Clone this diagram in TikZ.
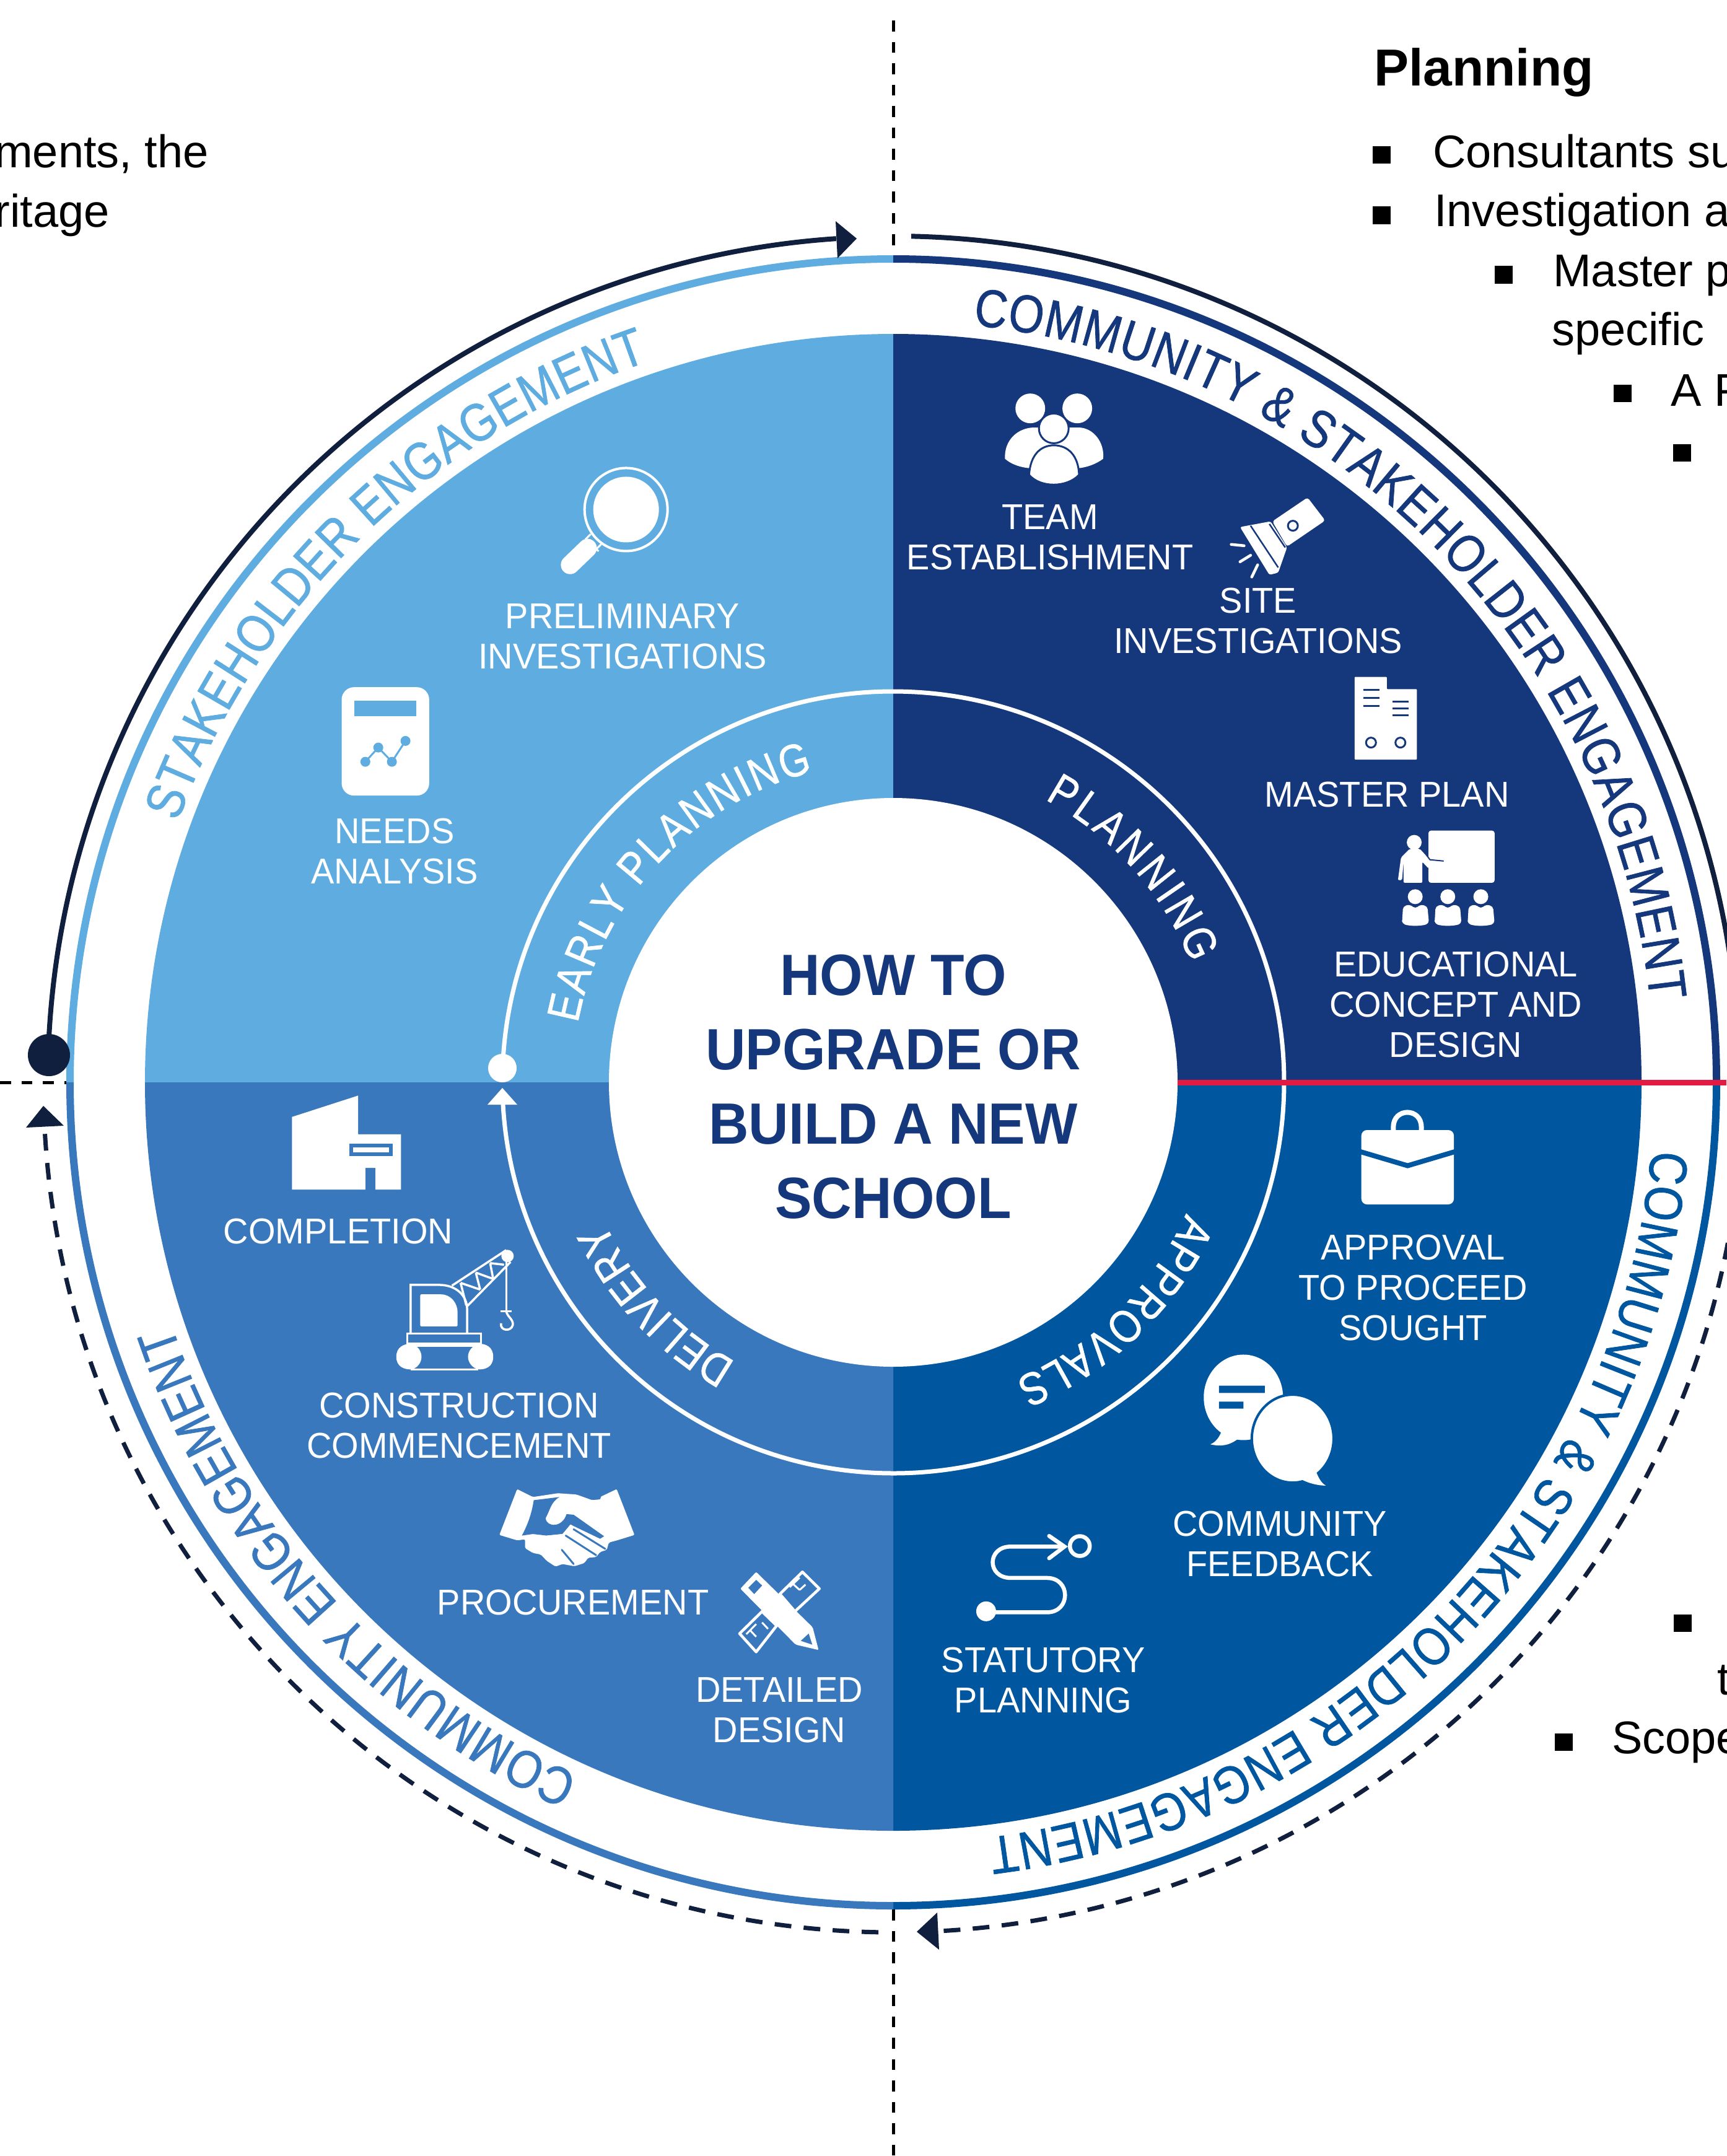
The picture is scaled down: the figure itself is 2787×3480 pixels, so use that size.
\documentclass[tikz,border=0pt]{standalone}
\usepackage{fontspec}
\setmainfont{Liberation Sans}
\newfontfamily\ringfont[FakeStretch=0.85,FakeBold=0.9]{Liberation Sans}
\newfontfamily\lblfont[FakeStretch=0.965]{Liberation Sans}
\newfontfamily\titlefont[FakeStretch=0.95]{Liberation Sans}
\usetikzlibrary{decorations.text}
\definecolor{qtl}{HTML}{5FADE0}
\definecolor{qtr}{HTML}{15387D}
\definecolor{qbr}{HTML}{0057A0}
\definecolor{qbl}{HTML}{3A78BE}
\definecolor{navy}{HTML}{101F3D}
\definecolor{redl}{HTML}{E31B43}
\tikzset{
  lbl/.style={text=white,align=center,inner sep=0pt,font=\lblfont\fontsize{58}{65}\selectfont},
  title/.style={text=qtr,align=center,inner sep=0pt,font=\titlefont\fontsize{94}{120}\selectfont\bfseries},
  side/.style={text=black,inner sep=0pt,font=\fontsize{74}{74}\selectfont},
  sidehead/.style={text=black,inner sep=0pt,font=\fontsize{84}{84}\selectfont\bfseries},
  zA/.style={shift={(1300,300)},x=0.9484pt,y=-0.7015pt},
  zB/.style={shift={(1500,1300)},x=0.8208pt,y=-0.7015pt},
  zC/.style={shift={(1400,2200)},x=0.8846pt,y=-0.8163pt},
  zD/.style={shift={(0,1600)},x=0.7015pt,y=-0.6378pt},
  zE/.style={shift={(500,2300)},x=0.6378pt,y=-0.5102pt},
  zF/.style={shift={(400,700)},x=0.5102pt,y=-0.5102pt},
  outerarc/.style={line width=12pt},
  navyline/.style={navy,line width=8pt},
  dashline/.style={navy,line width=7pt,dash pattern=on 27pt off 20pt},
  guide/.style={black,line width=5pt,dash pattern=on 17.5pt off 17pt}
}
\newcommand{\quadfill}[3]{\fill[#3] (C) -- ([shift={(#1:1208pt)}]C) arc[start angle=#1,end angle=#2,radius=1208pt] -- cycle;}
\newcommand{\outerseg}[3]{\draw[outerarc,#3] ([shift={(#1:1329pt)}]C) arc[start angle=#1,end angle=#2,radius=1329pt];}
% radius, start angle, end angle, size, colour, text; the path runs 2 degrees past the text end
\newcommand{\ringtext}[6]{%
  \pgfmathsetlengthmacro{\ringind}{2*0.0174533*#1}%
  \pgfmathsetmacro{\ringend}{#3-2}%
  \path[decorate,decoration={text along path,text align={fit to path,right indent=\ringind},text={|\ringfont\fontsize{#4}{#4}\selectfont\color{#5}|#6}}] ([shift={(#2:#1pt)}]C) arc[start angle=#2,end angle=\ringend,radius=#1pt];}
\begin{document}
\begin{tikzpicture}[x=1pt,y=-1pt]
\useasboundingbox (0,0) rectangle (2787,3480);
\fill[white] (0,0) rectangle (2787,3480);
\coordinate (C) at (1442,1747);
% guides
\draw[guide] (1442,33) -- (1442,413);
\draw[guide] (1442,3082) -- (1442,3480);
\draw[guide] (0,1747) -- (107,1747);
% quadrants
\quadfill{90}{180}{qtl}
\quadfill{0}{90}{qtr}
\quadfill{-90}{0}{qbr}
\quadfill{180}{270}{qbl}
\fill[white] (C) circle[radius=459pt];
% outer coloured ring
\outerseg{90}{180}{qtl}
\outerseg{0}{90}{qtr}
\outerseg{-90}{0}{qbr}
\outerseg{180}{270}{qbl}
% navy process arcs
\draw[navyline] ([shift={(178.15:1365pt)}]C) arc[start angle=178.15,end angle=93.87,radius=1365pt];
\fill[navy] (1349,357) -- (1383,385) -- (1352,417) -- cycle;
\draw[navyline] ([shift={(88.78:1366pt)}]C) arc[start angle=88.78,end angle=5,radius=1366pt];
\draw[dashline] ([shift={(-5:1372pt)}]C) arc[start angle=-5,end angle=-87.1,radius=1372pt];
\fill[navy] (1480,3118) -- (1513,3087) -- (1516,3147) -- cycle;
\draw[dashline] ([shift={(269:1372pt)}]C) arc[start angle=269,end angle=183.05,radius=1372pt];
\fill[navy] (70,1785) -- (103,1817) -- (42,1820) -- cycle;
\node[circle,fill=navy,minimum size=68pt,inner sep=0pt] (startdot) at (79,1703) {};
% white inner ring
\draw[white,line width=7pt] ([shift={(177.9:631pt)}]C) arc[start angle=177.9,end angle=-176.8,radius=631pt];
\fill[white] (811,1756) -- (835,1783) -- (787,1783) -- cycle;
\node[circle,fill=white,minimum size=46pt,inner sep=0pt] (ringdot) at (811,1724) {};
% red line
\draw[redl,line width=9pt] (1901,1747) -- (2787,1747);
% ring labels
\ringtext{1229}{84}{6.2}{86}{qtr}{COMMUNITY {\&} STAKEHOLDER ENGAGEMENT}
\ringtext{1229}{160}{108.8}{86}{qtl}{STAKEHOLDER ENGAGEMENT}
\ringtext{1229}{-5.1}{-82.8}{86}{qbr}{COMMUNITY {\&} STAKEHOLDER ENGAGEMENT}
\ringtext{1229}{245.6}{198.6}{86}{qbl}{COMMUNITY ENGAGEMENT}
\ringtext{518}{169.4}{104.5}{74}{white}{EARLY PLANNING}
\ringtext{518}{61.8}{21.8}{74}{white}{PLANNING}
\ringtext{518}{-24.1}{-67.6}{74}{white}{APPROVALS}
\ringtext{518}{240.6}{205.8}{74}{white}{DELIVERY}
% centre
\node[title] (centre) at (1442,1754) {HOW TO\\UPGRADE OR\\BUILD A NEW\\SCHOOL};
% white labels
\node[lbl] (team) at (1695,867) {TEAM\\ESTABLISHMENT};
\node[lbl] (site) at (2031,1002) {SITE\\INVESTIGATIONS};
\node[lbl] (master) at (2239,1283) {MASTER PLAN};
\node[lbl] (edu) at (2350,1622) {EDUCATIONAL\\CONCEPT AND\\DESIGN};
\node[lbl] (appr) at (2281,2079) {APPROVAL\\TO PROCEED\\SOUGHT};
\node[lbl] (feed) at (2066,2492) {COMMUNITY\\FEEDBACK};
\node[lbl] (stat) at (1684,2712) {STATUTORY\\PLANNING};
\node[lbl] (detail) at (1258,2760) {DETAILED\\DESIGN};
\node[lbl] (proc) at (925,2587) {PROCUREMENT};
\node[lbl] (constr) at (741,2301) {CONSTRUCTION\\COMMENCEMENT};
\node[lbl] (compl) at (546,1988) {COMPLETION};
\node[lbl] (needs) at (637,1374) {NEEDS\\ANALYSIS};
\node[lbl] (prelim) at (1005,1027) {PRELIMINARY\\INVESTIGATIONS};
% side text
\node[sidehead,anchor=base west] (h1) at (2218,138) {Planning};
\node[side,anchor=base west] (s1) at (2313,270) {Consultants su};
\node[side,anchor=base west] (s2) at (2315,365) {Investigation a};
\node[side,anchor=base west] (s3) at (2507,462) {Master p};
\node[side,anchor=base west] (s4) at (2505,557) {specific};
\node[side,anchor=base west] (s5) at (2697,655) {A P};
\node[side,anchor=base west] (s6) at (2772,2735) {t};
\node[side,anchor=base west] (s7) at (2602,2830) {Scope};
\node[side,anchor=base east] (l1) at (337,270) {ments, the};
\node[side,anchor=base east] (l2) at (177,366) {ritage};
\fill[black] (2216,236) rectangle (2245,264);
\fill[black] (2216,333) rectangle (2245,362);
\fill[black] (2413,429) rectangle (2442,458);
\fill[black] (2605,621) rectangle (2634,649);
\fill[black] (2701,717) rectangle (2730,745);
\fill[black] (2702,2606) rectangle (2731,2634);
\fill[black] (2510,2798) rectangle (2539,2826);
% ---- icons ----
% team
\begin{scope}[zA]
\fill[white] (340,628) .. controls (338,585) and (362,556) .. (390,556) -- (465,556) .. controls (490,556) and (510,590) .. (507,628) .. controls (495,640) and (480,648) .. (462,650) -- (385,650) .. controls (365,648) and (350,640) .. cycle;
\fill[white] (383,512) circle[radius=24pt];
\fill[white] (463,512) circle[radius=24pt];
\filldraw[fill=white,draw=qtr,line width=3pt] (423,558) circle[radius=24pt];
\filldraw[fill=white,draw=qtr,line width=3pt] (381,665) .. controls (383,620) and (400,597) .. (423,597) .. controls (447,597) and (465,620) .. (466,665) .. controls (445,695) and (400,695) .. cycle;
% torch
\fill[white,rounded corners=4pt] (855,717) -- (885,770) -- (820,830) -- (795,772) -- cycle;
\fill[white,rounded corners=3pt] (740,785) -- (792,772) -- (820,832) -- (805,890) -- (790,895) -- cycle;
\draw[qtr,line width=2.5pt] (758,782) -- (805,878) (790,778) -- (817,832);
\draw[qtr,line width=3pt] (830,782) circle[radius=8pt];
\draw[white,line width=4.5pt,line cap=round] (725,825) -- (747,828) (740,865) -- (758,850) (760,900) -- (770,872);
% building
\fill[white,rounded corners=1pt] (935,1130) -- (990,1130) -- (990,1158) -- (1041,1158) -- (1041,1320) -- (935,1320) -- cycle;
\draw[qtr,line width=3pt] (950,1160) -- (977,1160) (950,1178) -- (977,1178) (950,1197) -- (977,1197)
  (1000,1187) -- (1027,1187) (1000,1203) -- (1027,1203) (1000,1218) -- (1027,1218);
\draw[qtr,line width=3pt] (963,1281) circle[radius=8pt] (1013,1281) circle[radius=8pt];
\end{scope}
% education
\begin{scope}[zB]
\fill[white,rounded corners=4pt] (982,58) rectangle (1112,178);
\fill[white] (954,85) circle[radius=12pt];
\fill[white,rounded corners=2pt] (922,172) -- (928,120) -- (945,100) -- (965,100) -- (985,125) -- (1012,122) -- (1014,140) -- (982,145) -- (970,130) -- (970,178) -- (933,178) -- (933,130) -- (930,172) -- cycle;
\draw[qtr,line width=2pt] (974,108) -- (985,125) -- (1012,128);
\foreach \xx in {956,1020,1085}{
  \fill[white] (\xx,210) circle[radius=12pt];
  \fill[white,rounded corners=5pt] ({\xx-26},272) -- ({\xx-24},232) -- ({\xx-10},228) -- ({\xx},238) -- ({\xx+10},228) -- ({\xx+24},232) -- ({\xx+27},272) .. controls ({\xx+10},278) and ({\xx-10},278) .. cycle;
}
% briefcase
\draw[white,line width=8pt] (913,750) -- (913,740) .. controls (913,695) and (968,695) .. (968,740) -- (968,750);
\fill[white,rounded corners=9pt] (850,747) rectangle (1032,918);
\draw[qbr,line width=8pt] (846,796) -- (941,829) -- (1036,796);
% speech bubbles
\fill[white] (553,1470) .. controls (565,1465) and (572,1450) .. (575,1440) -- (610,1455) .. controls (590,1475) and (570,1475) .. cycle;
\fill[white] (618,1362) ellipse[x radius=64pt,y radius=69pt];
\filldraw[fill=white,draw=qbr,line width=4pt] (715,1457) ellipse[x radius=66pt,y radius=71pt];
\fill[white] (780,1565) .. controls (765,1565) and (745,1560) .. (728,1548) -- (760,1530) .. controls (765,1545) and (770,1558) .. cycle;
\fill[qbr] (570,1335) rectangle (660,1352) (570,1372) rectangle (618,1388);
\end{scope}
% statutory path
\begin{scope}[zC]
\draw[white,line width=6.5pt,rounded corners=0pt] (360,363) -- (262,363) .. controls (218,363) and (218,425) .. (262,425) -- (328,425) .. controls (372,425) and (372,493) .. (328,493) -- (217,493);
\draw[white,line width=6.5pt,line cap=round] (332,342) -- (360,363) -- (332,386);
\fill[white] (217,491) circle[radius=16pt];
\draw[white,line width=6.5pt] (388,362) circle[radius=16pt];
\end{scope}
% completion + crane
\begin{scope}[zD]
\fill[white] (672,318) -- (824,264) -- (824,362) -- (923,362) -- (923,502) -- (864,502) -- (864,447) -- (841,447) -- (841,502) -- (672,502) -- cycle;
\draw[qbl,line width=6pt] (808,390) rectangle (899,412);
\begin{scope}[white,line width=3.5pt]
\draw (945,865) -- (945,743) -- (1010,743) .. controls (1050,743) and (1075,770) .. (1075,805) -- (1075,865);
\fill[rounded corners=2pt] (967,767) -- (1012,767) .. controls (1038,767) and (1053,790) .. (1053,815) -- (1053,848) -- (967,848) -- cycle;
\draw (937,866) rectangle (1107,892);
\draw (945,897) -- (1100,897) (945,957) -- (1100,957);
\fill (912,925) .. controls (912,900) and (930,892) .. (945,892) .. controls (960,895) and (970,910) .. (970,925) .. controls (970,940) and (960,955) .. (945,957) .. controls (930,957) and (912,950) .. cycle;
\fill (1135,925) .. controls (1135,900) and (1118,892) .. (1103,892) .. controls (1088,895) and (1077,910) .. (1077,925) .. controls (1077,940) and (1088,955) .. (1103,957) .. controls (1118,957) and (1135,950) .. cycle;
\draw (1040,745) -- (1165,655) (1075,797) -- (1175,685);
\draw (1060,738) -- (1073,795) (1060,738) -- (1105,755) (1095,712) -- (1105,755) (1095,712) -- (1135,728) (1128,688) -- (1135,728) (1128,688) -- (1160,692);
\fill (1168,670) circle[radius=10pt];
\draw (1165,685) -- (1165,810) (1152,810) -- (1178,810);
\draw (1165,810) .. controls (1168,825) and (1182,830) .. (1180,845) .. controls (1176,862) and (1150,860) .. (1153,840);
\end{scope}
\end{scope}
% handshake + tools
\begin{scope}[zE]
\fill[white,rounded corners=2pt] (525,203) -- (565,228) -- (628,216) -- (675,220) -- (715,238) -- (737,235) -- (735,228) -- (777,203) -- (822,348) -- (778,365) -- (757,372) -- (752,395) -- (735,402) -- (725,418) -- (705,420) -- (695,437) -- (670,447) -- (640,440) -- (622,448) -- (600,430) -- (585,410) -- (565,405) -- (545,390) -- (545,362) -- (525,365) -- (480,348) -- cycle;
\fill[qbl] (567,238) -- (632,228) .. controls (610,245) and (610,265) .. (597,295) .. controls (600,325) and (640,325) .. (650,282) -- (668,284) -- (745,352) -- (735,360) -- (660,315) -- (640,345) -- (600,350) -- (565,345) -- (537,350) .. controls (552,315) and (562,280) .. cycle;
\fill[white] (600,350) -- (640,345) -- (660,315) -- (730,365) -- (725,400) -- (640,372) -- cycle;
\draw[qbl,line width=3pt,line cap=round] (648,350) -- (725,412) (668,330) -- (748,392) (638,395) -- (668,440);
% tools
\draw[white,line width=4.5pt,line join=round] (1247,465) -- (1290,518) -- (1228,590) -- (1190,535) -- cycle;
\draw[white,line width=4.5pt,line join=round] (1145,590) -- (1182,635) -- (1130,718) -- (1088,660) -- cycle;
\draw[white,line width=3pt] (1240,483) -- (1215,513) (1255,505) -- (1240,522) (1225,505) -- (1240,522) (1130,630) -- (1105,662) (1145,625) -- (1160,645) (1115,650) -- (1130,670);
\fill[white,rounded corners=2pt] (1130,465) -- (1090,518) -- (1230,695) -- (1288,712) -- (1273,640) -- cycle;
\fill[qbl] (1130,490) -- (1145,508) -- (1125,535) -- (1110,515) -- cycle;
\fill[qbl] (1263,660) -- (1272,695) -- (1243,683) -- cycle;
\end{scope}
% magnifier + needs chart
\begin{scope}[zF]
\fill[white] (1197,240) circle[radius=53pt];
\draw[white,line width=4pt] (1197,240) circle[radius=67pt];
\draw[white,line width=3pt] (1068,335) -- (1085,318) (1100,368) -- (1118,350) (1075,340) -- (1110,372);
\draw[white,line width=30pt,line cap=round] (1020,415) -- (1075,362);
\fill[white,rounded corners=20pt] (297,802) rectangle (574,1145);
\fill[qtl] (338,845) rectangle (533,893);
\draw[qtl,line width=3pt] (372,1038) -- (413,993) -- (456,1038) -- (499,972);
\fill[qtl] (372,1038) circle[radius=8pt] (413,993) circle[radius=8pt] (456,1038) circle[radius=8pt] (499,972) circle[radius=8pt];
\end{scope}
\end{tikzpicture}
\end{document}
